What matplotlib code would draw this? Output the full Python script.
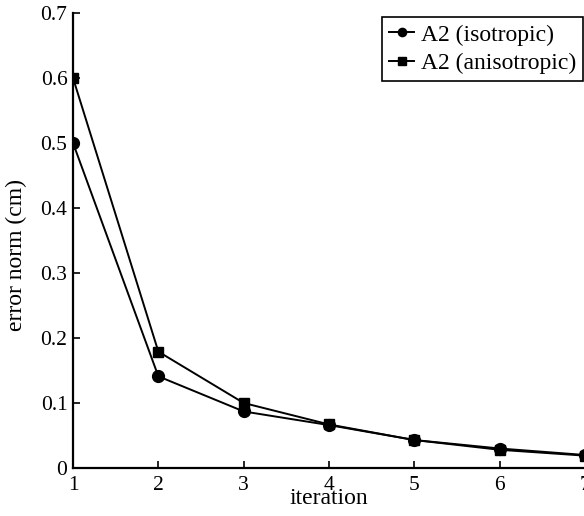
import numpy as np
import matplotlib.pyplot as plt

# data
iteration = [1, 2, 3, 4, 5, 6, 7]
err_iso = [0.50, 0.141, 0.087, 0.066, 0.043, 0.030, 0.020]
err_aniso = [0.60, 0.179, 0.100, 0.067, 0.043, 0.028, 0.019]
xticks = [1, 2, 3, 4, 5, 6, 7]
yticks = [0, 0.1, 0.2, 0.3, 0.4, 0.5, 0.6, 0.7]
ylabels = ['0', '0.1', '0.2', '0.3', '0.4', '0.5', '0.6', '0.7']

plt.rcParams['font.family'] = ['Liberation Serif', 'DejaVu Serif']
plt.rcParams['font.size'] = 15.5

fig = plt.figure(figsize=(5.84, 5.16), dpi=100)
ax = fig.add_axes([0.125, 0.093, 0.877, 0.882])

ax.plot(iteration, err_iso, '-o', color='k', lw=1.4, ms=8.5, label='A2 (isotropic)')
ax.plot(iteration, err_aniso, '-s', color='k', lw=1.4, ms=7.5, label='A2 (anisotropic)')

ax.set_xlim(1, 7)
ax.set_ylim(0, 0.7)
ax.set_xticks(xticks)
ax.set_yticks(yticks)
ax.set_yticklabels(ylabels)
ax.tick_params(direction='in', length=5, width=1.2, pad=4)
ax.tick_params(axis='x', pad=6)
for s in ['top', 'right']:
    ax.spines[s].set_visible(False)
for s in ['left', 'bottom']:
    ax.spines[s].set_linewidth(1.6)

ax.set_xlabel('iteration', fontsize=17, labelpad=-5)
ax.set_ylabel('error norm (cm)', fontsize=17)
ax.yaxis.set_label_coords(-0.09, 0.468)

leg = ax.legend(loc='upper right', bbox_to_anchor=(0.996, 0.991), handlelength=1.05,
                handletextpad=0.28, borderpad=0.3, labelspacing=0.3, fancybox=False,
                edgecolor='k', framealpha=1, borderaxespad=0, markerscale=0.7,
                fontsize=17)
leg.get_frame().set_linewidth(1.2)

plt.savefig('out.png', dpi=100)
